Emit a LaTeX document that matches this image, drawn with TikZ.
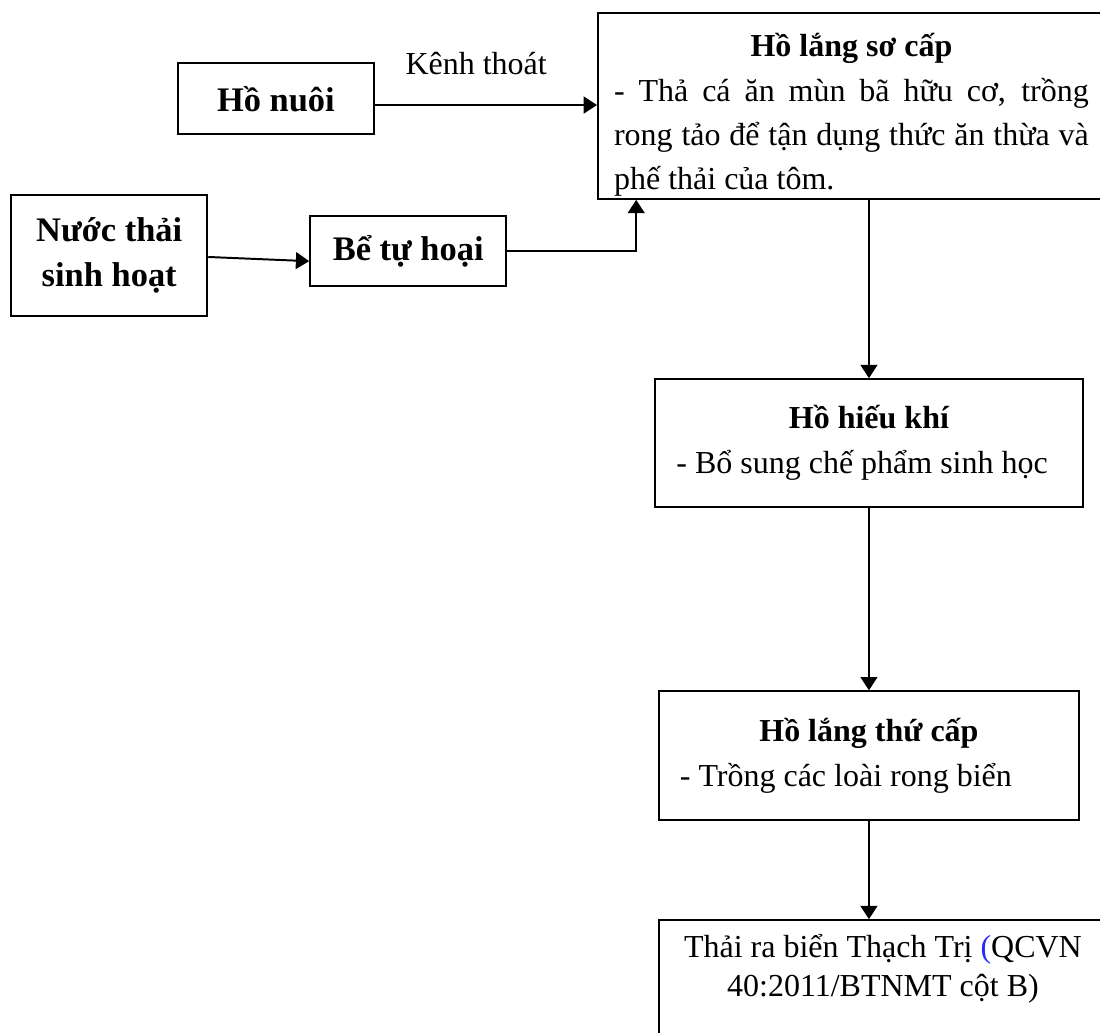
\documentclass[tikz,border=0pt]{standalone}
\usepackage{fontspec}
\setmainfont{Liberation Serif}
\usetikzlibrary{arrows.meta, positioning}
\definecolor{parenblue}{RGB}{40,40,255}
\tikzset{
    box/.style={
        draw,
        line width=0.8pt,
        inner sep=0pt,
        align=flush center
    },
    boldbox/.style={
        box,
        minimum width=2.8cm,
        font=\fontsize{14}{18.3}\selectfont\bfseries
    },
    textbox/.style={
        box,
        align=flush left,
        inner xsep=0.3cm,
        font=\fontsize{13}{18.3}\selectfont
    },
    line/.style={-{Triangle[length=0.19cm, width=0.24cm]}, line width=0.8pt},
    edgelabel/.style={font=\fontsize{13}{15}\selectfont}
}

\begin{document}
\begin{tikzpicture}
\useasboundingbox (0,0) rectangle (15.71,-14.74);

\node[boldbox, minimum height=1.01cm] (honuoi) at (3.94,-1.41) {Hồ nuôi};
\node[textbox, align=justify, text width=6.78cm, inner xsep=0.23cm, text height=0.63cm, text depth=2.03cm,
    font=\fontsize{13}{18}\selectfont] (langsc) at (12.16,-1.51)
    {{\centering\bfseries Hồ lắng sơ cấp\par}- Thả cá ăn mùn bã hữu cơ, trồng\linebreak rong tảo để tận dụng thức ăn thừa và\linebreak phế thải của tôm.};
\node[boldbox, minimum height=1.73cm] (nuocthai) at (1.56,-3.65) {Nước thải\\sinh hoạt};
\node[boldbox, minimum height=1.0cm] (tuhoai) at (5.83,-3.59) {Bể tự hoại};

\node[textbox, text width=5.5cm, minimum height=1.83cm] (hieukhi) at (12.41,-6.33)
    {{\centering\bfseries Hồ hiếu khí\par}- Bổ sung chế phẩm sinh học};
\node[textbox, text width=5.4cm, minimum height=1.84cm, below=2.6cm of hieukhi] (langtc)
    {{\centering\bfseries Hồ lắng thứ cấp\par}- Trồng các loài rong biển};
\node[box, text width=6.0cm, inner xsep=0.2cm, inner ysep=0.2cm, text depth=1.3cm,
    font=\fontsize{13}{15.8}\selectfont, below right=1.4cm and 0cm of langtc.south west] (thaibien)
    {Thải ra biển Thạch Trị {\color{parenblue}(}QCVN\\40:2011/BTNMT cột B)};

\draw[line] ([yshift=-0.09cm]honuoi.east) -- ([yshift=-0.09cm]honuoi.east -| langsc.west)
    node[edgelabel, midway, above=0.3cm, xshift=-0.14cm] {Kênh thoát};
\draw[line] ([yshift=-0.02cm]nuocthai.east) -- ([yshift=-0.14cm]tuhoai.west);
\draw[line] (tuhoai.east) -| ([xshift=0.56cm]langsc.south west);
\draw[line] (langsc.south -| hieukhi.north) -- (hieukhi.north);
\draw[line] (hieukhi) -- (langtc);
\draw[line] (langtc.south) -- (langtc.south |- thaibien.north);
\end{tikzpicture}
\end{document}
